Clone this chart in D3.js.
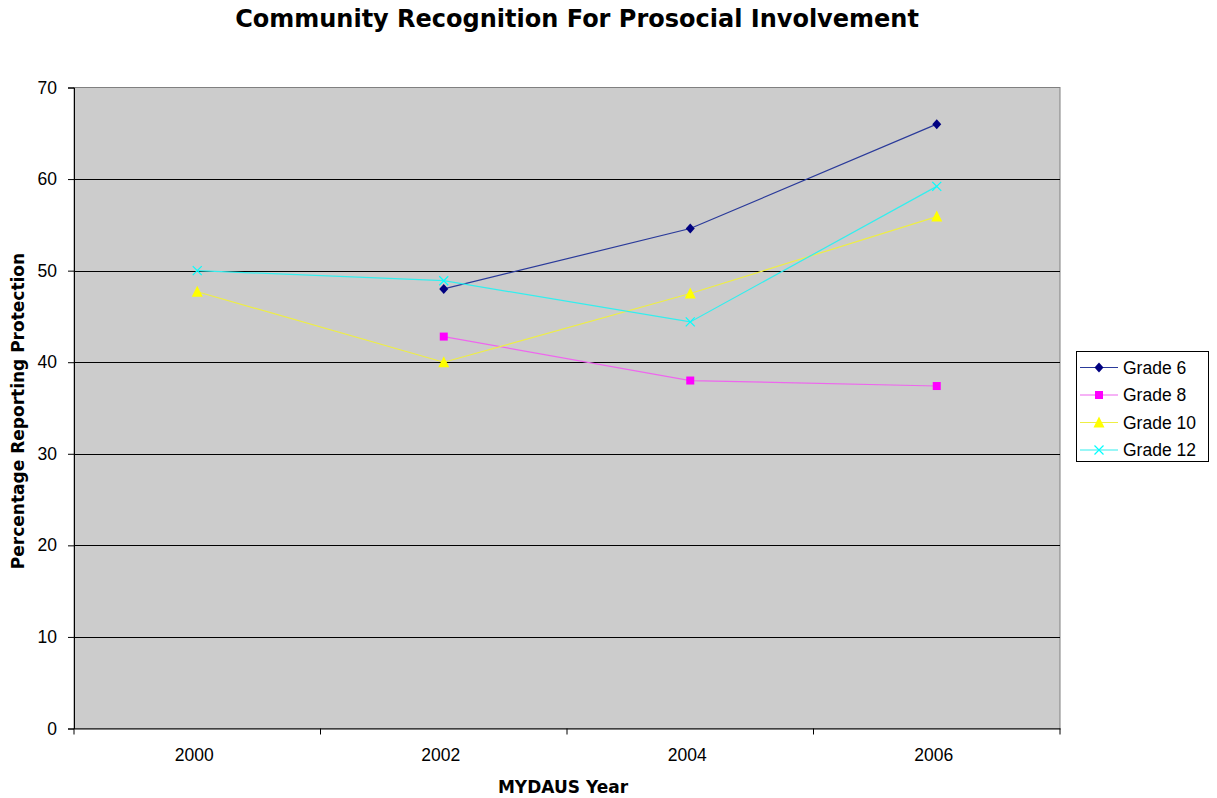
<!DOCTYPE html>
<html><head><meta charset="utf-8">
<script src="https://cdn.jsdelivr.net/npm/d3@7"></script>
<style>body{margin:0;background:#fff;} svg{display:block;font-family:"DejaVu Sans",Verdana,sans-serif;} .sm{font-family:"Liberation Sans",Arial,sans-serif;}</style>
</head><body>
<svg id="chart" width="1217" height="798"></svg>
<script>
const years = ["2000", "2002", "2004", "2006"];
const yTicks = [0, 10, 20, 30, 40, 50, 60, 70];
const grade6 = [null, 48.0, 54.6, 66.0];
const grade8 = [null, 42.8, 38.0, 37.4];
const grade10 = [47.7, 40.0, 47.5, 55.9];
const grade12 = [50.0, 48.9, 44.4, 59.2];
const seriesNames = ["Grade 6", "Grade 8", "Grade 10", "Grade 12"];
const seriesColors = ["#000080", "#FF00FF", "#FFFF00", "#00FFFF"];
const seriesLineColors = ["#2a3a9a", "#ee66ee", "#eeee44", "#33eeee"];
const seriesMarkers = ["diamond", "square", "triangle", "x"];

const series = [grade6, grade8, grade10, grade12].map((vals, i) => ({
  name: seriesNames[i], color: seriesColors[i], line: seriesLineColors[i], marker: seriesMarkers[i],
  points: vals.map((v, j) => ({year: years[j], v})).filter(d => d.v !== null)
}));

const svg = d3.select("#chart");
const L = 74, R = 1060, T = 87.5, B = 728.5;
const x = d3.scaleBand().domain(years).range([L, R]);
const y = d3.scaleLinear().domain([0, 70]).range([B, T]);

svg.append("rect").attr("x", L).attr("y", T).attr("width", R - L).attr("height", B - T)
  .attr("fill", "#CCCCCC").attr("stroke", "#808080").attr("stroke-width", 1);

// gridlines
svg.append("g").selectAll("line").data(yTicks.filter(t => t > 0 && t < 70)).join("line")
  .attr("x1", L).attr("x2", R).attr("y1", d => Math.round(y(d)) + 0.5).attr("y2", d => Math.round(y(d)) + 0.5)
  .attr("stroke", "#000").attr("stroke-width", 1);

// y axis
const yAxis = d3.axisLeft(y).tickValues(yTicks).tickSize(6).tickPadding(11);
const gy = svg.append("g").attr("transform", `translate(${L},0)`).call(yAxis)
  .attr("font-size", null).attr("font-family", null);
gy.select(".domain").attr("stroke", "#000");
gy.selectAll(".tick text").attr("class", "sm").style("font-size", "17.5px").style("fill", "#000");

// x axis
const xAxis = d3.axisBottom(x).tickSize(0).tickPadding(20);
const gx = svg.append("g").attr("transform", `translate(0,${B})`).call(xAxis)
  .attr("font-size", null).attr("font-family", null);
gx.select(".domain").attr("stroke", "#000");
gx.selectAll(".tick text").attr("class", "sm").attr("x", -3).style("font-size", "17.5px").style("fill", "#000");
const bounds = years.map(yr => x(yr)).concat([R]);
gx.append("g").selectAll("line").data(bounds).join("line")
  .attr("x1", d => d).attr("x2", d => d).attr("y1", 0).attr("y2", 6).attr("stroke", "#000");

// lines
const line = d3.line().x(d => x(d.year) + x.bandwidth() / 2).y(d => y(d.v));
function drawMarker(g, type, color, cx, cy) {
  if (type === "diamond") {
    g.append("path").attr("d", `M${cx},${cy - 5}L${cx + 4.5},${cy}L${cx},${cy + 5}L${cx - 4.5},${cy}Z`)
      .attr("fill", color);
  } else if (type === "square") {
    g.append("rect").attr("x", cx - 4).attr("y", cy - 4).attr("width", 8).attr("height", 8).attr("fill", color);
  } else if (type === "triangle") {
    g.append("path").attr("d", `M${cx},${cy - 6}L${cx + 5.5},${cy + 5}L${cx - 5.5},${cy + 5}Z`).attr("fill", color);
  } else {
    g.append("path").attr("d", `M${cx - 4.5},${cy - 4.5}L${cx + 4.5},${cy + 4.5}M${cx - 4.5},${cy + 4.5}L${cx + 4.5},${cy - 4.5}`)
      .attr("stroke", color).attr("stroke-width", 1.2).attr("fill", "none");
  }
}
series.forEach(s => {
  svg.append("path").datum(s.points).attr("d", line).attr("fill", "none")
    .attr("stroke", s.line).attr("stroke-width", 1.2);
});
series.forEach(s => {
  const g = svg.append("g");
  s.points.forEach(p => drawMarker(g, s.marker, s.color, x(p.year) + x.bandwidth() / 2, y(p.v)));
});

// legend
const lg = svg.append("g");
lg.append("rect").attr("x", 1076.5).attr("y", 351.5).attr("width", 132).attr("height", 110)
  .attr("fill", "#fff").attr("stroke", "#000");
series.forEach((s, i) => {
  const ly = 367.5 + i * 27.5;
  lg.append("line").attr("x1", 1080).attr("x2", 1118).attr("y1", ly).attr("y2", ly)
    .attr("stroke", s.line).attr("stroke-width", 1.2);
  drawMarker(lg, s.marker, s.color, 1099, ly);
  lg.append("text").attr("class", "sm").attr("x", 1123).attr("y", ly).attr("dy", "0.36em").style("font-size", "17.5px")
    .text(s.name);
});

// titles
svg.append("text").attr("x", 577).attr("y", 27).attr("text-anchor", "middle")
  .attr("font-weight", "bold").style("font-size", "24px").text("Community Recognition For Prosocial Involvement");
svg.append("text").attr("x", 563).attr("y", 793).attr("text-anchor", "middle")
  .attr("font-weight", "bold").style("font-size", "17px").text("MYDAUS Year");
svg.append("text").attr("transform", "translate(24,411) rotate(-90)").attr("text-anchor", "middle")
  .attr("font-weight", "bold").style("font-size", "17px").text("Percentage Reporting Protection");
</script>
</body></html>
